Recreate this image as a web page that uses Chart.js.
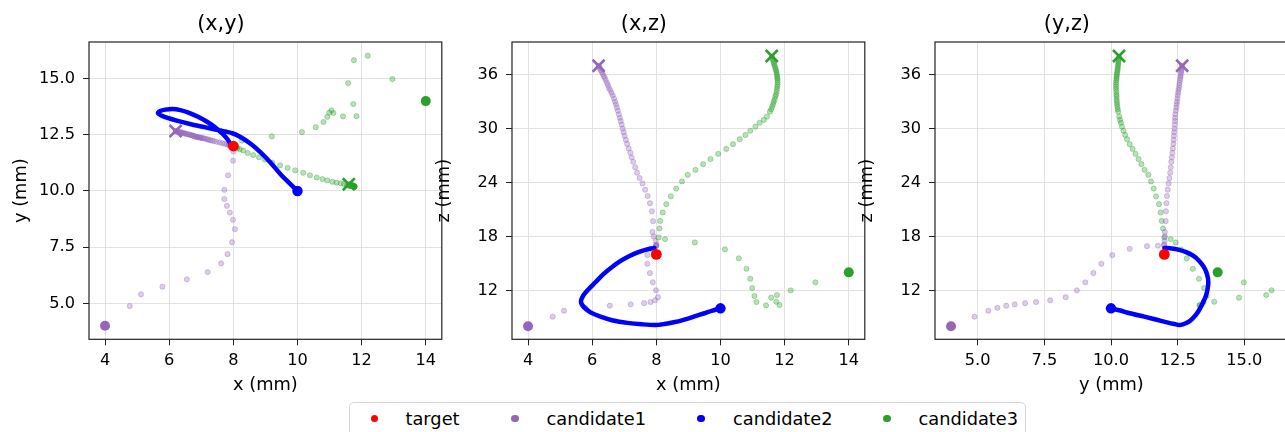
<!DOCTYPE html>
<html>
<head>
<meta charset="utf-8">
<title>Candidate trajectories</title>
<script src="https://cdn.jsdelivr.net/npm/chart.js@4.4.1/dist/chart.umd.min.js"></script>
<style>
  html, body { margin: 0; padding: 0; background: #fff; }
  body { position: relative; width: 1285px; height: 432px; overflow: hidden; font-family: "DejaVu Sans", sans-serif; }
  .panel { position: absolute; top: 0; }
  #legend { position: absolute; left: 349px; top: 402px; width: 677px; height: 46px; box-sizing: border-box;
            border: 1px solid #d6d6d6; border-radius: 5px; background: rgba(255,255,255,0.8); }
  #legend .dot { position: absolute; width: 7.4px; height: 7.4px; border-radius: 50%; top: 11.6px; }
  #legend .lbl { position: absolute; top: 4.8px; font-size: 17.8px; line-height: 22px; color: #000; white-space: nowrap; }
</style>
</head>
<body>
<div id="legend"></div>
<script>
// ---- data (mm) ----
// fixed points as [x, y, z]
const targetPos = [8, 12, 16];
const c1Start = [4, 4, 8.0];
const c1End = [6.2, 12.67, 37.0];
const c2Start = [10, 10, 10];
const c3Start = [14, 14, 14];
const c3End = [11.6, 10.3, 38.08];

// candidate1 path samples
const c1X = [4.77, 5.12, 5.79, 6.55, 7.20, 7.62, 7.82, 7.96, 8.05, 7.99, 7.89, 7.80, 7.72, 7.72, 7.84, 7.99, 8.00, 8.00,
  8.00, 7.98, 7.92, 7.88, 7.90, 7.86, 7.80, 7.73, 7.65, 7.57, 7.48, 7.40, 7.34, 7.28, 7.23, 7.19, 7.14, 7.09, 7.05, 7.01,
  6.98, 6.95, 6.92, 6.89, 6.86, 6.83, 6.80, 6.77, 6.74, 6.71, 6.68, 6.64, 6.60, 6.56, 6.52, 6.49, 6.46, 6.42, 6.39, 6.36,
  6.33, 6.30, 6.27, 6.24, 6.22, 6.20];
const c1Y = [4.88, 5.40, 5.74, 6.07, 6.39, 6.78, 7.19, 7.72, 8.30, 8.72, 9.04, 9.34, 9.64, 10.05, 10.70, 11.35, 11.76, 11.98,
  12.00, 12.01, 12.02, 12.02, 12.05, 12.06, 12.08, 12.10, 12.13, 12.16, 12.19, 12.22, 12.24, 12.26, 12.28, 12.30, 12.32, 12.34, 12.35, 12.36,
  12.37, 12.38, 12.39, 12.40, 12.40, 12.41, 12.43, 12.45, 12.46, 12.48, 12.49, 12.50, 12.52, 12.53, 12.55, 12.56, 12.57, 12.59, 12.60, 12.61,
  12.62, 12.63, 12.64, 12.65, 12.66, 12.67];
const c1Z = [9.07, 9.73, 10.05, 10.29, 10.44, 10.57, 10.70, 10.89, 11.24, 12.00, 12.89, 13.92, 14.96, 15.92, 16.62, 16.92, 16.96, 17.03,
  17.1, 17.5, 18.0, 18.5, 19.7, 20.8, 21.7, 22.5, 23.2, 23.9, 24.5, 25.1, 25.7, 26.3, 26.8, 27.3, 27.8, 28.3, 28.75, 29.2,
  29.6, 30.0, 30.45, 30.85, 31.2, 31.6, 32.0, 32.35, 32.7, 33.0, 33.35, 33.7, 34.0, 34.3, 34.55, 34.85, 35.1, 35.4, 35.65, 35.85,
  36.1, 36.3, 36.5, 36.7, 36.9, 37.0];

// candidate2 path (drawn as a continuous line)
const c2X = [10.00, 9.75, 9.50, 9.17, 8.85, 8.54, 8.25, 7.97, 7.55, 7.10, 6.65, 6.26, 5.95, 5.75, 5.65,
  5.72, 5.88, 6.10, 6.35, 6.62, 6.90, 7.18, 7.44, 7.66, 7.83, 7.94];
const c2Y = [10.00, 10.35, 10.70, 11.25, 11.72, 12.10, 12.38, 12.57, 12.70, 12.84, 12.98, 13.12, 13.25, 13.36, 13.46,
  13.56, 13.62, 13.65, 13.60, 13.48, 13.30, 13.08, 12.82, 12.55, 12.28, 12.00];
const c2Z = [10.00, 9.75, 9.45, 9.07, 8.72, 8.44, 8.25, 8.14, 8.22, 8.38, 8.65, 9.07, 9.55, 10.10, 10.70,
  11.40, 12.10, 12.90, 13.80, 14.60, 15.30, 15.85, 16.25, 16.50, 16.65, 16.72];

// candidate3 path samples
const c3X = [12.96, 12.19, 11.76, 11.58, 11.74, 11.84, 11.42, 11.12, 11.06, 10.99, 10.93, 10.81, 10.57, 10.14, 9.20, 8.27,
  8.07, 8.10, 8.12, 8.20, 8.31, 8.45, 8.62, 8.80, 8.98, 9.22, 9.46, 9.69, 9.93, 10.18, 10.39, 10.60, 10.78, 10.93, 11.09,
  11.22, 11.35, 11.45, 11.54, 11.58, 11.61, 11.64, 11.66, 11.69, 11.71, 11.73, 11.75, 11.76, 11.77, 11.78, 11.78, 11.78,
  11.77, 11.77, 11.76, 11.75, 11.74, 11.72, 11.71, 11.69, 11.67, 11.66, 11.64, 11.62, 11.61];
const c3Y = [14.98, 16.02, 15.82, 14.80, 13.87, 13.33, 13.32, 13.47, 13.59, 13.49, 13.30, 13.07, 12.84, 12.62, 12.43, 12.24,
  12.00, 11.95, 11.90, 11.86, 11.80, 11.69, 11.60, 11.50, 11.40, 11.26, 11.14, 11.03, 10.92, 10.81, 10.70, 10.60, 10.53, 10.47, 10.41,
  10.37, 10.34, 10.31, 10.27, 10.25, 10.24, 10.23, 10.22, 10.21, 10.21, 10.20, 10.20, 10.19, 10.19, 10.19, 10.19, 10.20,
  10.21, 10.21, 10.22, 10.23, 10.24, 10.25, 10.25, 10.26, 10.27, 10.28, 10.28, 10.29, 10.30];
const c3Z = [12.89, 12.00, 11.48, 11.18, 10.73, 10.37, 10.33, 10.70, 11.37, 12.26, 13.29, 14.40, 15.56, 16.56, 17.33, 17.70,
  17.89, 18.89, 19.73, 20.67, 21.59, 22.46, 23.33, 24.12, 24.86, 25.41, 26.04, 26.61, 27.19, 27.74, 28.27, 28.82, 29.30, 29.76, 30.22,
  30.65, 30.97, 31.34, 31.89, 32.15, 32.44, 32.70, 33.00, 33.25, 33.56, 33.80, 34.10, 34.40, 34.67, 34.90, 35.15, 35.40,
  35.60, 35.78, 36.00, 36.20, 36.40, 36.60, 36.80, 37.00, 37.20, 37.40, 37.60, 37.80, 38.00];

// axis limits and ticks
const xLim = [3.5, 14.5];
const yLim = [3.4, 16.63];
const zLim = [6.55, 39.64];
const xTicks = [4, 6, 8, 10, 12, 14];
const xTickLabels = ['4', '6', '8', '10', '12', '14'];
const yTicks = [5, 7.5, 10, 12.5, 15];
const yTickLabels = ['5.0', '7.5', '10.0', '12.5', '15.0'];
const zTicks = [12, 18, 24, 30, 36];
const zTickLabels = ['12', '18', '24', '30', '36'];

const legendNames = ['target', 'candidate1', 'candidate2', 'candidate3'];

// ---- styling ----
const FONT = 'DejaVu Sans';
const RED = '#ff0000', PURPLE = '#9467bd', BLUE = '#0000ff', GREEN = '#2ca02c';
const PURPLE_FADE = 'rgba(148,103,189,0.33)', GREEN_FADE = 'rgba(44,160,44,0.33)';
const legendColors = [RED, PURPLE, BLUE, GREEN];

Chart.defaults.font.family = FONT;

const AX = { x: 0, y: 1, z: 2 };
const axes = {
  x: { lim: xLim, ticks: xTicks, labels: xTickLabels, title: 'x (mm)' },
  y: { lim: yLim, ticks: yTicks, labels: yTickLabels, title: 'y (mm)' },
  z: { lim: zLim, ticks: zTicks, labels: zTickLabels, title: 'z (mm)' }
};
const tracks = {
  c1: { x: c1X, y: c1Y, z: c1Z },
  c2: { x: c2X, y: c2Y, z: c2Z },
  c3: { x: c3X, y: c3Y, z: c3Z }
};

const panels = [
  { title: '(x,y)', h: 'x', v: 'y', left: 0 },
  { title: '(x,z)', h: 'x', v: 'z', left: 423 },
  { title: '(y,z)', h: 'y', v: 'z', left: 846 }
];

// outline the whole plot area like a boxed axes
const frame = {
  id: 'frame',
  afterDraw(chart) {
    const { ctx, chartArea: a } = chart;
    ctx.save();
    ctx.strokeStyle = '#222';
    ctx.lineWidth = 1.2;
    ctx.strokeRect(a.left, a.top, a.right - a.left, a.bottom - a.top);
    ctx.restore();
  }
};

function buildDatasets(h, v) {
  const i = AX[h], j = AX[v];
  const one = pt => [{ x: pt[i], y: pt[j] }];
  const track = t => t[h].map((val, k) => ({ x: val, y: t[v][k] }));
  const dot = (data, color, r) => ({ data, pointRadius: r, pointHoverRadius: r, backgroundColor: color, borderColor: color, borderWidth: 0 });
  const cross = (data, color) => ({ data, pointStyle: 'crossRot', pointRadius: 8.5, pointHoverRadius: 8.5, borderColor: color, borderWidth: 2.6 });
  const faded = (data, color) => ({ data, pointRadius: 2.6, pointHoverRadius: 2.6, backgroundColor: color, borderColor: color, borderWidth: 1 });
  // earlier datasets are painted on top
  return [
    dot(one(targetPos), RED, 5.4),
    dot(one(c2Start), BLUE, 5.2),
    { data: track(tracks.c2), showLine: true, borderColor: BLUE, borderWidth: 4.5, tension: 0.3,
      pointRadius: 0, pointHoverRadius: 0, borderCapStyle: 'round', borderJoinStyle: 'round' },
    cross(one(c1End), PURPLE),
    cross(one(c3End), GREEN),
    dot(one(c1Start), PURPLE, 5),
    dot(one(c3Start), GREEN, 5),
    faded(track(tracks.c1), PURPLE_FADE),
    faded(track(tracks.c3), GREEN_FADE)
  ];
}

function axisOpts(key, which) {
  const a = axes[key];
  const isX = which === 'x';
  return {
    type: 'linear',
    position: isX ? 'bottom' : 'left',
    min: a.lim[0],
    max: a.lim[1],
    afterBuildTicks: s => { s.ticks = a.ticks.map(val => ({ value: val })); },
    afterFit: s => { if (isX) s.height = 60.7; else s.width = 89; },
    ticks: {
      autoSkip: false, maxRotation: 0, color: '#000',
      padding: isX ? 6 : 8,
      font: { family: FONT, size: 16.2 },
      callback: val => a.labels[a.ticks.indexOf(val)]
    },
    grid: { color: '#e2e2e2', lineWidth: 1, drawTicks: true, tickLength: 6, tickColor: '#222', tickWidth: 1 },
    border: { display: false },
    title: {
      display: true, text: a.title, color: '#000',
      font: { family: FONT, size: 17.8 },
      padding: isX ? { top: 0, bottom: 3.6 } : { top: 10.6, bottom: 0 }
    }
  };
}

panels.forEach(p => {
  const c = document.createElement('canvas');
  c.width = 531;
  c.height = 400;
  c.className = 'panel';
  c.style.left = p.left + 'px';
  document.body.appendChild(c);
  new Chart(c, {
    type: 'scatter',
    data: { datasets: buildDatasets(p.h, p.v) },
    options: {
      responsive: false,
      animation: false,
      devicePixelRatio: 1,
      events: [],
      layout: { padding: { left: 0, right: 89.2, top: 0, bottom: 0 } },
      plugins: {
        legend: { display: false },
        tooltip: { enabled: false },
        title: {
          display: true, text: p.title, color: '#000',
          font: { family: FONT, size: 20.8, weight: 'normal', lineHeight: 1.2 },
          padding: { top: 12.1, bottom: 4.94 }
        }
      },
      scales: { x: axisOpts(p.h, 'x'), y: axisOpts(p.v, 'y') }
    },
    plugins: [frame]
  });
});

// shared legend under the panels
const legend = document.getElementById('legend');
const dotLeft = [21, 161.3, 347.3, 533.3];
const textLeft = [55.5, 196.5, 383, 568.5];
legendNames.forEach((name, k) => {
  const d = document.createElement('span');
  d.className = 'dot';
  d.style.left = dotLeft[k] + 'px';
  d.style.background = legendColors[k];
  legend.appendChild(d);
  const t = document.createElement('span');
  t.className = 'lbl';
  t.style.left = textLeft[k] + 'px';
  t.textContent = name;
  legend.appendChild(t);
});
</script>
</body>
</html>
